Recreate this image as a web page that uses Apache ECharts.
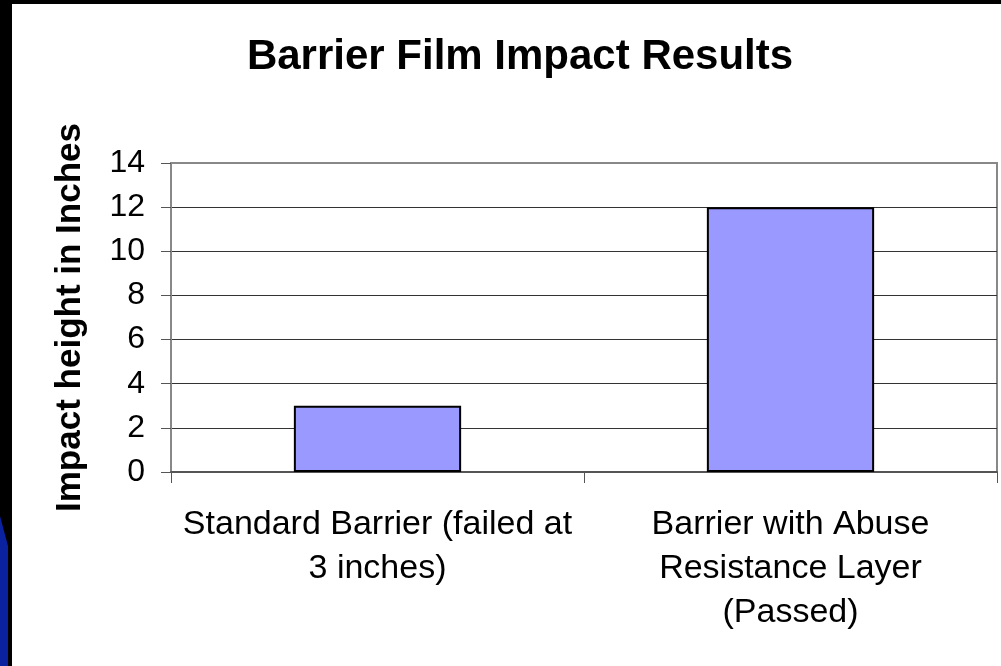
<!DOCTYPE html>
<html>
<head>
<meta charset="utf-8">
<script src="https://cdn.jsdelivr.net/npm/echarts@6/dist/echarts.min.js"></script>
<style>
html,body{margin:0;padding:0;background:#000;}
#chart{width:1001px;height:666px;}
</style>
</head>
<body>
<div id="chart"></div>
<script>
const titleText = 'Barrier Film Impact Results';
const yAxisName = 'Impact height in Inches';
const categories = ['Standard Barrier (failed at\n3 inches)', 'Barrier with Abuse\nResistance Layer\n(Passed)'];
const impactHeights = [3, 12];
const yMin = 0, yMax = 14, yStep = 2;

const FONT = '"Liberation Sans", Arial, sans-serif';
const chart = echarts.init(document.getElementById('chart'), null, {renderer: 'canvas'});
chart.setOption({
  backgroundColor: '#ffffff',
  animation: false,
  title: {
    text: titleText,
    left: 515,
    top: 31,
    textAlign: 'center',
    textStyle: {fontFamily: FONT, fontSize: 42, fontWeight: 'bold', color: '#000'}
  },
  graphic: [
    {type: 'rect', shape: {x: 0, y: 0, width: 1001, height: 4}, style: {fill: '#000'}, silent: true},
    {type: 'rect', shape: {x: 0, y: 0, width: 12, height: 666}, style: {fill: '#000'}, silent: true},
    {type: 'polygon', shape: {points: [[0, 516], [8, 546], [8, 666], [0, 666]]}, style: {fill: '#0a22a0'}, silent: true}
  ],
  grid: {
    left: 171, right: 4, top: 163, bottom: 194,
    show: true, borderColor: '#888', borderWidth: 2, backgroundColor: 'transparent'
  },
  xAxis: {
    type: 'category',
    data: categories,
    boundaryGap: true,
    axisLine: {lineStyle: {color: '#555', width: 2}},
    axisTick: {show: true, length: 11, alignWithLabel: false, lineStyle: {color: '#555', width: 1}},
    axisLabel: {
      interval: 0, margin: 31, lineHeight: 44,
      fontFamily: FONT, fontSize: 34, color: '#000'
    }
  },
  yAxis: {
    type: 'value',
    min: yMin, max: yMax, interval: yStep,
    name: yAxisName,
    nameLocation: 'middle',
    nameRotate: 90,
    nameGap: 101,
    nameTextStyle: {fontFamily: FONT, fontSize: 35, fontWeight: 'bold', color: '#000', verticalAlign: 'middle'},
    axisLine: {show: true, lineStyle: {color: '#888', width: 2}},
    axisTick: {show: true, length: 10, lineStyle: {color: '#555', width: 1}},
    axisLabel: {margin: 26, fontFamily: FONT, fontSize: 32, color: '#000'},
    splitLine: {show: true, showMaxLine: false, lineStyle: {color: '#333', width: 1}}
  },
  series: [{
    type: 'bar',
    data: impactHeights,
    barWidth: '40.5%',
    itemStyle: {color: '#9999FF', borderColor: '#000', borderWidth: 2}
  }]
});
</script>
</body>
</html>
